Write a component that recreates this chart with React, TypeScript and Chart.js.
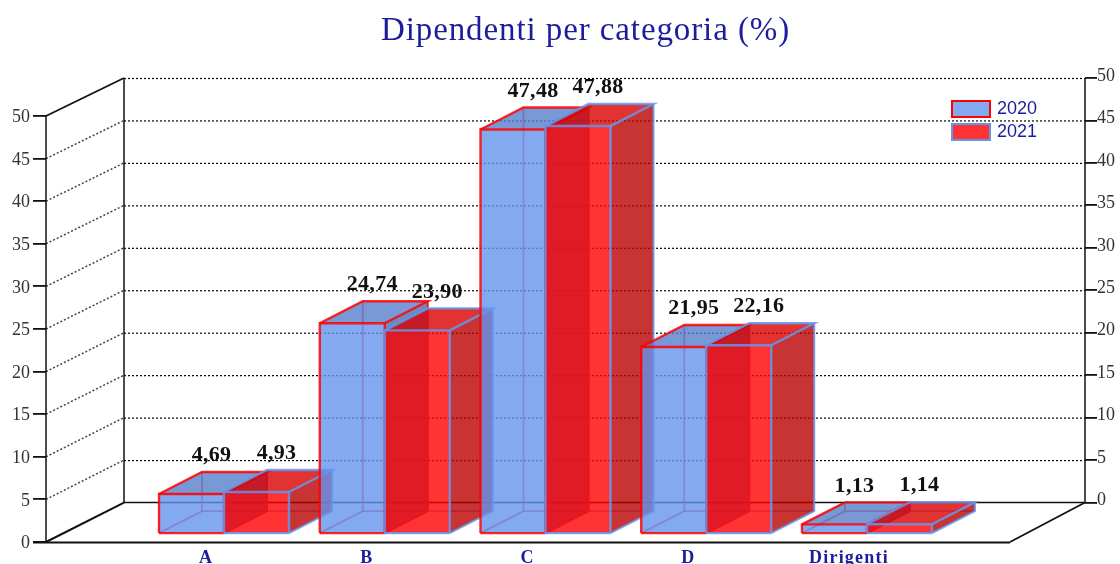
import React, { useEffect, useRef } from "react";
import { Chart, registerables } from "chart.js";

Chart.register(...registerables);

const categories = ["A", "B", "C", "D", "Dirigenti"];
const series2020 = [4.69, 24.74, 47.48, 21.95, 1.13];
const series2021 = [4.93, 23.9, 47.88, 22.16, 1.14];
const seriesNames = ["2020", "2021"];
const yTicks = [0, 5, 10, 15, 20, 25, 30, 35, 40, 45, 50];
const TITLE = "Dipendenti per categoria (%)";

const BLUE = "100,149,237";
const RED = "255,0,0";
const NAVY = "#1c1c9c";
const SERIF = "'Liberation Serif'";
const WALL_DX = 78;
const FLOOR_END = 1010;
const BAR_NEAR = { dx: 16, dy: -8 };
const BAR_FAR = { dx: 59, dy: -30 };

const shade = (rgb: string, f: number, a = 0.8) => {
  const c = rgb.split(",").map((n) => Math.round(Number(n) * f));
  return `rgba(${c.join(",")},${a})`;
};

const poly = (ctx: CanvasRenderingContext2D, pts: number[][]) => {
  ctx.beginPath();
  pts.forEach((p, i) => (i ? ctx.lineTo(p[0], p[1]) : ctx.moveTo(p[0], p[1])));
};

const fillPoly = (ctx: CanvasRenderingContext2D, pts: number[][], color: string) => {
  poly(ctx, pts);
  ctx.closePath();
  ctx.fillStyle = color;
  ctx.fill();
};

const line = (ctx: CanvasRenderingContext2D, pts: number[][], color: string, width: number, dash: number[] = []) => {
  ctx.save();
  ctx.setLineDash(dash);
  ctx.strokeStyle = color;
  ctx.lineWidth = width;
  poly(ctx, pts);
  ctx.stroke();
  ctx.restore();
};

const withSpacing = (target: any, method: string, spacing: string) => {
  const original = target[method];
  target[method] = function (...args: any[]) {
    const ctx = this.ctx;
    ctx.letterSpacing = spacing;
    original.apply(this, args);
    ctx.letterSpacing = "0px";
  };
};

const walls = {
  id: "walls",
  afterLayout(chart: any) {
    // centre the title over the plot's own horizontal extent; the reference's text runs wide
    if (chart.titleBlock && !chart.titleBlock._wide) {
      chart.titleBlock._wide = true;
      chart.titleBlock.left = 51;
      chart.titleBlock.right = 1120;
      withSpacing(chart.titleBlock, "draw", "0.9px");
      withSpacing(chart.scales.x, "drawLabels", "1.2px");
    }
  },
  beforeDatasetsDraw(chart: any) {
    const { ctx, chartArea, scales } = chart;
    const { y, y2 } = scales;
    const l = chartArea.left;
    const r = chartArea.right;
    const bx = l + WALL_DX;
    yTicks.forEach((v) => {
      if (v === 0) return;
      const f = y.getPixelForValue(v);
      const b = y2.getPixelForValue(v);
      const dotted = [2, 2];
      if (v !== 50) line(ctx, [[l, f], [bx, b]], "#444", 1.5, dotted);
      line(ctx, [[bx, b + 0.5], [r, b + 0.5]], "#000", 1.2, dotted);
    });
    const f0 = y.getPixelForValue(0);
    const f50 = y.getPixelForValue(50);
    const b0 = y2.getPixelForValue(0);
    const b50 = y2.getPixelForValue(50);
    const ink = "#111";
    line(ctx, [[l, f50], [l, f0]], ink, 1.5);
    line(ctx, [[bx, b50], [bx, b0]], ink, 1.5);
    line(ctx, [[l, f50], [bx, b50]], ink, 1.8);
    line(ctx, [[l, f0], [bx, b0]], ink, 2);
    line(ctx, [[bx, b0], [r, b0]], ink, 1.5);
    line(ctx, [[r, b50], [r, b0]], ink, 1.5);
    line(ctx, [[FLOOR_END, f0], [r, b0]], ink, 1.8);
    line(ctx, [[l - 13, f0 + 0.5], [FLOOR_END, f0 + 0.5]], ink, 1.8);
  },
  afterDatasetsDraw(chart: any) {
    const { ctx } = chart;
    const count = categories.length;
    for (let i = 0; i < count; i++) {
      [0, 1].forEach((d) => {
        const bar = chart.getDatasetMeta(d).data[i];
        const { x, y: top, base, width } = bar.getProps(["x", "y", "base", "width"], true);
        const fill = d === 0 ? BLUE : RED;
        const edge = d === 0 ? RED : BLUE;
        const edgeColor = `rgba(${edge},0.85)`;
        const x0 = x - width / 2;
        const x1 = x + width / 2;
        const n = BAR_NEAR;
        const g = BAR_FAR;
        const nl = x0 + n.dx;
        const nr = x1 + n.dx;
        const fl = x0 + g.dx;
        const fr = x1 + g.dx;
        const nt = top + n.dy;
        const nb = base + n.dy;
        const ft = top + g.dy;
        const fb = base + g.dy;

        // edges seen through the translucent faces
        line(ctx, [[nl, nb], [fl, fb], [fl, ft]], `rgba(${edge},0.7)`, 1.8);
        line(ctx, [[fl, fb], [fr, fb]], `rgba(${edge},0.7)`, 1.8);

        // right, top, front faces
        fillPoly(ctx, [[nr, nt], [fr, ft], [fr, fb], [nr, nb]], shade(fill, 0.73));
        fillPoly(ctx, [[nl, nt], [fl, ft], [fr, ft], [nr, nt]], shade(fill, 0.86));
        fillPoly(ctx, [[nl, nt], [nr, nt], [nr, nb], [nl, nb]], shade(fill, 1));

        line(ctx, [[nl, nb], [nl, nt], [nr, nt], [nr, nb]], edgeColor, 2.4);
        line(ctx, [[nl, nb], [nr, nb]], edgeColor, 2.4);
        line(ctx, [[nl, nt], [fl, ft], [fr, ft], [nr, nt]], edgeColor, 2.4);
        line(ctx, [[fr, ft], [fr, fb], [nr, nb]], edgeColor, 2);
      });
    }

    // value labels stay on top of every bar
    [series2020, series2021].forEach((values, d) => {
      values.forEach((value, i) => {
        const bar = chart.getDatasetMeta(d).data[i];
        const { x, y: top } = bar.getProps(["x", "y"], true);
        ctx.save();
        ctx.font = `bold 22px ${SERIF}`;
        ctx.letterSpacing = "0.3px";
        ctx.fillStyle = "#111";
        ctx.textAlign = "center";
        ctx.textBaseline = "middle";
        ctx.fillText(
          value.toFixed(2).replace(".", ","),
          x + (BAR_NEAR.dx + BAR_FAR.dx) / 2 - 1.5,
          top + BAR_FAR.dy - 16.5
        );
        ctx.restore();
      });
    });

    // legend
    seriesNames.forEach((name, k) => {
      const top = 101 + k * 23;
      const fill = k === 0 ? BLUE : RED;
      const edge = k === 0 ? RED : BLUE;
      ctx.fillStyle = `rgba(${fill},0.8)`;
      ctx.fillRect(952, top, 38, 16);
      ctx.strokeStyle = `rgb(${edge})`;
      ctx.lineWidth = 2;
      ctx.strokeRect(952, top, 38, 16);
      ctx.save();
      ctx.font = "18px 'Liberation Sans'";
      ctx.fillStyle = NAVY;
      ctx.textAlign = "left";
      ctx.textBaseline = "middle";
      ctx.fillText(name, 997, top + 8);
      ctx.restore();
    });
  },
};

export default function App() {
  const ref = useRef<HTMLCanvasElement>(null);
  useEffect(() => {
    document.body.style.margin = "0";
    const toPoints = (vals: number[]) => vals.map((v, i) => ({ x: i, y: v }));
    const useTicks = (list: number[]) => (s: any) => {
      s.ticks = list.map((value) => ({ value }));
    };
    const chart = new Chart(ref.current as HTMLCanvasElement, {
      type: "bar",
      data: {
        datasets: [
          { label: seriesNames[0], data: toPoints(series2020), backgroundColor: "rgba(0,0,0,0)", xAxisID: "x", yAxisID: "y" },
          { label: seriesNames[1], data: toPoints(series2021), backgroundColor: "rgba(0,0,0,0)", xAxisID: "x", yAxisID: "y" },
        ],
      },
      options: {
        responsive: false,
        animation: false,
        layout: { autoPadding: false, padding: 0 },
        datasets: { bar: { barThickness: 65 } },
        plugins: {
          legend: { display: false },
          tooltip: { enabled: false },
          title: {
            display: true,
            text: TITLE,
            color: NAVY,
            font: { family: SERIF, size: 33, weight: "normal" },
            padding: { top: 12, bottom: 26.4 },
          },
        },
        scales: {
          x: {
            type: "linear",
            offset: false,
            min: -1.008,
            max: 5.456,
            grid: { display: false, drawTicks: false },
            border: { display: false },
            afterBuildTicks: useTicks(categories.map((_, i) => i)),
            afterFit: (s: any) => { s.height = 22; },
            ticks: {
              autoSkip: false,
              maxRotation: 0,
              labelOffset: -2,
              padding: 6,
              color: NAVY,
              font: { family: SERIF, size: 18, weight: "bold" },
              callback: (v: any) => categories[v],
            },
          },
          y: {
            position: "left",
            min: 0,
            max: 54.46,
            border: { display: false },
            grid: { drawOnChartArea: false, drawTicks: true, tickLength: 13, tickColor: "#111", lineWidth: 1.8 },
            afterBuildTicks: useTicks(yTicks),
            afterFit: (s: any) => { s.width = 46; },
            ticks: { color: "#333", padding: 3, labelOffset: 1.5, font: { family: SERIF, size: 18 } },
          },
          y2: {
            position: "right",
            min: -4.65,
            max: 50,
            border: { display: false },
            grid: { drawOnChartArea: false, drawTicks: true, tickLength: 12, tickColor: "#111", lineWidth: 1.8 },
            afterBuildTicks: useTicks(yTicks),
            afterFit: (s: any) => { s.width = 35; },
            ticks: { color: "#333", padding: 0, labelOffset: -2, font: { family: SERIF, size: 18 } },
          },
        },
      } as any,
      plugins: [walls],
    });
    return () => chart.destroy();
  }, []);
  return <canvas ref={ref} width={1120} height={564} style={{ display: "block", width: 1120, height: 564, filter: "blur(0.4px)" }} />;
}
